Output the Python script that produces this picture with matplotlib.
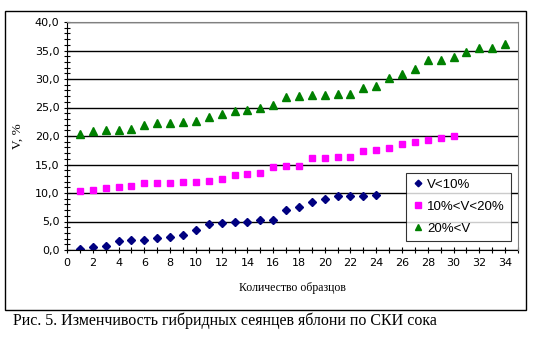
import matplotlib
matplotlib.use("Agg")
import matplotlib.pyplot as plt
from matplotlib.patches import Rectangle
from matplotlib.ticker import MultipleLocator, FuncFormatter

# data
x_low = list(range(1, 25))
v_low = [0.2, 0.5, 0.7, 1.5, 1.7, 1.7, 2.1, 2.2, 2.6, 3.5, 4.6, 4.8,
         4.9, 4.9, 5.3, 5.3, 7.1, 7.6, 8.4, 9.0, 9.4, 9.4, 9.4, 9.7]
x_mid = list(range(1, 31))
v_mid = [10.3, 10.6, 10.8, 11.0, 11.2, 11.8, 11.8, 11.8, 11.9, 12.0,
         12.1, 12.4, 13.2, 13.4, 13.5, 14.6, 14.8, 14.8, 16.2, 16.2,
         16.4, 16.4, 17.3, 17.6, 17.9, 18.6, 19.0, 19.3, 19.7, 20.0]
x_high = list(range(1, 35))
v_high = [20.3, 20.8, 21.0, 21.0, 21.2, 21.9, 22.2, 22.2, 22.4, 22.6,
          23.3, 23.8, 24.3, 24.5, 24.9, 25.4, 26.8, 27.0, 27.2, 27.2,
          27.3, 27.3, 28.5, 28.7, 30.1, 30.8, 31.7, 33.3, 33.3, 33.8,
          34.7, 35.4, 35.4, 36.1]
labels = ["V<10%", "10%<V<20%", "20%<V"]

W, H = 553, 349
fig = plt.figure(figsize=(W / 100, H / 100), dpi=100)
fig.patch.set_facecolor("white")

# outer chart frame
fig.patches.append(Rectangle((5 / W, 1 - 310 / H), 521 / W, 299 / H,
                             transform=fig.transFigure, fill=False,
                             edgecolor="black", lw=1.0))

ax = fig.add_axes([67 / W, 1 - 250 / H, 451 / W, 228 / H])
ax.plot(x_low, v_low, "D", color="#000080", ms=4.2, label=labels[0], ls="none")
ax.plot(x_mid, v_mid, "s", color="#ff00ff", ms=5, label=labels[1], ls="none")
ax.plot(x_high, v_high, "^", color="#008000", ms=5.5, label=labels[2], ls="none")

ax.set_xlim(0, 35)
ax.set_ylim(0, 40)
ax.xaxis.set_major_locator(MultipleLocator(2))
ax.xaxis.set_minor_locator(MultipleLocator(1))
ax.yaxis.set_major_locator(MultipleLocator(5))
ax.yaxis.set_minor_locator(MultipleLocator(1))
ax.yaxis.set_major_formatter(FuncFormatter(lambda v, _: f"{v:.1f}".replace(".", ",")))
ax.grid(axis="y", color="black", lw=1.0)
ax.set_axisbelow(True)

for side in ("top", "right"):
    ax.spines[side].set_color("#808080")
    ax.spines[side].set_zorder(3)
ax.spines["left"].set_color("black")
ax.spines["bottom"].set_color("black")
ax.tick_params(which="major", length=5, width=0.8, labelsize=8, direction="inout", pad=3)
ax.tick_params(which="minor", length=4, width=0.8, direction="inout")
for lbl in ax.get_xticklabels() + ax.get_yticklabels():
    lbl.set_family("DejaVu Sans")

ax.set_ylabel("V, %", family="Liberation Serif", fontsize=9.5, labelpad=8)
ax.set_xlabel("Количество образцов", family="Liberation Serif", fontsize=8.5, labelpad=10)

leg = ax.legend(loc="lower right", bbox_to_anchor=(0.9845, 0.04), frameon=True,
                fancybox=False, prop={"family": "Liberation Sans", "size": 9.5},
                handletextpad=0.2, borderpad=0.45, labelspacing=0.75,
                handlelength=1.0, borderaxespad=0, markerscale=0.8)
leg.get_frame().set_edgecolor("black")
leg.get_frame().set_linewidth(0.8)

fig.text(13 / W, 1 - 321 / H, "Рис. 5. Изменчивость гибридных сеянцев яблони по СКИ сока",
         family="Liberation Serif", fontsize=11.5, va="center", ha="left")

fig.savefig("out.png", dpi=100)
